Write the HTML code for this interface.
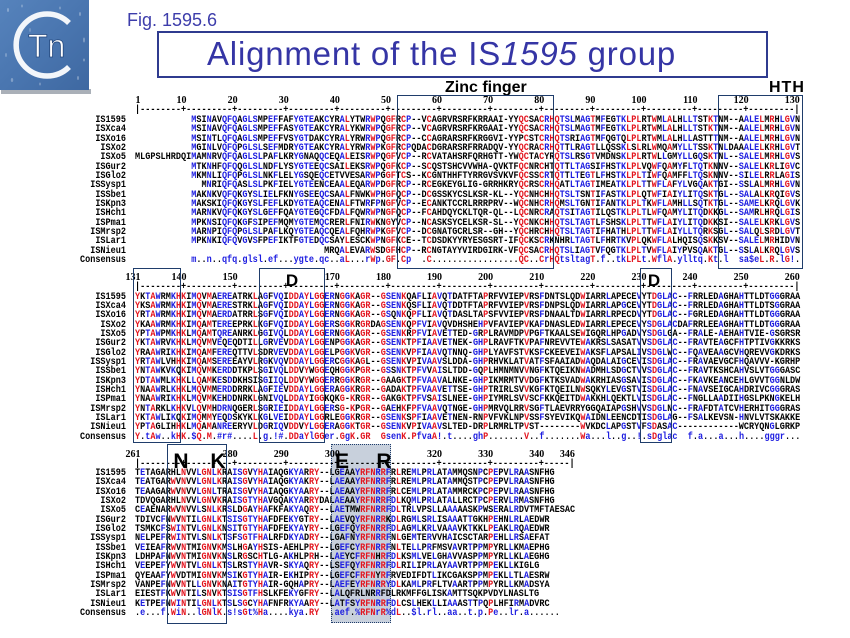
<!DOCTYPE html>
<html><head><meta charset="utf-8">
<style>
body{margin:0;background:#fff;}
#pg{position:relative;width:850px;height:638px;overflow:hidden;background:#fff;}
.a{position:absolute;}
.mono{font-family:"Liberation Mono","DejaVu Sans Mono",monospace;font-weight:bold;font-size:10px;color:#000;}
.names{position:absolute;left:0;width:126px;text-align:right;transform:scaleX(.8517);transform-origin:126px 0;}
.seqs{position:absolute;left:135.4px;transform:scaleX(.8517);transform-origin:0 0;}
.names div,.seqs div{height:9.35px;line-height:9.35px;white-space:pre;}
.c1{color:#e3151f}
.c2{color:#1c1ce0}
.lab{position:absolute;width:30px;text-align:right;font-family:"Liberation Serif",serif;font-weight:bold;font-size:10px;line-height:10px;color:#000;}
.box{position:absolute;border:1.5px solid #1f3d6b;box-sizing:border-box;}
.big{position:absolute;width:30px;text-align:center;font-family:"Liberation Sans",sans-serif;font-weight:bold;color:#000;}
</style></head>
<body><div id="pg">

<!-- logo -->
<svg class="a" style="left:0;top:0" width="92" height="96">
<defs><linearGradient id="bgl" x1="0" y1="0" x2="1" y2="1"><stop offset="0" stop-color="#5683bc"/><stop offset=".5" stop-color="#4a76b0"/><stop offset="1" stop-color="#3e68a1"/></linearGradient></defs>
<rect x="1" y="89" width="90" height="5" fill="#aab0b8"/>
<rect x="0" y="0" width="89" height="90" fill="url(#bgl)"/>
<g fill="#fff">
<ellipse cx="8" cy="10" rx="1" ry="2" opacity=".3"/><ellipse cx="22" cy="6" rx="1" ry="1.5" opacity=".25"/>
<ellipse cx="80" cy="14" rx="1" ry="2" opacity=".3"/><ellipse cx="84" cy="40" rx="1" ry="2.5" opacity=".3"/>
<ellipse cx="6" cy="55" rx="1" ry="2" opacity=".25"/><ellipse cx="12" cy="80" rx="1.2" ry="2" opacity=".3"/>
<ellipse cx="40" cy="84" rx="1" ry="1.5" opacity=".25"/><ellipse cx="78" cy="78" rx="1" ry="2" opacity=".3"/>
<ellipse cx="60" cy="8" rx="1" ry="1.5" opacity=".25"/><ellipse cx="30" cy="30" rx="1" ry="2" opacity=".2"/>
<ellipse cx="60" cy="72" rx="1" ry="2" opacity=".2"/><ellipse cx="84" cy="60" rx="1" ry="1.5" opacity=".3"/>
</g>
<path d="M69 23 A31 31 0 1 0 69 67" fill="none" stroke="#f3f6fa" stroke-width="5.5"/>
<text x="28" y="57" font-family="Liberation Sans, sans-serif" font-size="32" fill="#fff" stroke="#24487e" stroke-width=".8">Tn</text>
</svg>

<div class="a" style="left:127px;top:10.6px;font-family:'Liberation Sans',sans-serif;font-size:18px;line-height:18px;color:#3d3dab;white-space:nowrap">Fig. 1595.6</div>
<div class="a" style="left:157px;top:31px;width:611px;height:47px;border:2px solid #2f3b8f;box-sizing:border-box"></div>
<div class="a" style="left:207px;top:37px;font-family:'Liberation Sans',sans-serif;font-size:33px;line-height:33px;letter-spacing:.8px;color:#3535a5;white-space:nowrap">Alignment of the IS<i>1595</i> group</div>

<div class="a" style="left:445px;top:79.5px;font-family:'Liberation Sans',sans-serif;font-weight:bold;font-size:16px;line-height:16px;white-space:nowrap">Zinc finger</div>
<div class="a" style="left:769px;top:79.5px;font-family:'Liberation Sans',sans-serif;font-weight:bold;font-size:16px;line-height:16px;letter-spacing:1px">HTH</div>

<!-- E-R box fill (behind text) -->
<div class="a" style="left:331px;top:444px;width:60px;height:179px;background:#c8d0dc"></div>

<!-- ================= BLOCK 1 ================= -->
<div class="lab" style="left:110.55px;top:96.1px">1</div>
<div class="lab" style="left:156.5px;top:96.1px">10</div>
<div class="lab" style="left:207.65px;top:96.1px">20</div>
<div class="lab" style="left:258.75px;top:96.1px">30</div>
<div class="lab" style="left:309.85px;top:96.1px">40</div>
<div class="lab" style="left:360.95px;top:96.1px">50</div>
<div class="lab" style="left:412.05px;top:96.1px">60</div>
<div class="lab" style="left:463.15px;top:96.1px">70</div>
<div class="lab" style="left:514.25px;top:96.1px">80</div>
<div class="lab" style="left:565.35px;top:96.1px">90</div>
<div class="lab" style="left:616.45px;top:96.1px">100</div>
<div class="lab" style="left:667.55px;top:96.1px">110</div>
<div class="lab" style="left:718.65px;top:96.1px">120</div>
<div class="lab" style="left:769.75px;top:96.1px">130</div>
<div class="seqs mono" style="top:106px"><div>|--------+---------+---------+---------+---------+---------+---------+---------+---------+---------+---------+---------+---------|</div></div>

<div class="blk a mono" style="left:0;top:116px;width:850px">
<div class="names"><div>IS1595</div><div>ISXca4</div><div>ISXo16</div><div>ISXo2</div><div>ISXo5</div><div>ISGur2</div><div>ISGlo2</div><div>ISSysp1</div><div>ISSbe1</div><div>ISKpn3</div><div>ISHch1</div><div>ISPma1</div><div>ISMrsp2</div><div>ISLar1</div><div>ISNieu1</div><div>Consensus</div></div>
<div class="seqs">
<div class="s">           MSINAVQFQAGLSMPEFFAFYGTEAKCYRALYTWRWPQGFRCP--VCAGRVRSRFKRRAAI-YYQCSACRHQTSLMAGTMFEGTKLPLRTWMLALHLLTSTKTNM--AALELMRHLGVN</div>
<div class="s">           MSINAVQFQAGLSMPEFFASYGTEAKCYRALYKWRWPQGFRCP--VCAGRVRSRFKRGAAI-YYQCSACRHQTSLMAGTMFEGTKLPLRTWMLALHLLTSTKTNM--AALELMRHLGVN</div>
<div class="s">           MSINTLQFQAGLSMPEFFVSYGTDAKCYRALYRWRWPQGFRCP--CCAGRARSRFKRGGVI-YYPCSTCRHQTSRIAGTMFQGTQLPLRTWMLALHLLASTTTNM--AALELMRHLGVN</div>
<div class="s">           MGINLVQFQPGLSLSEFMDRYGTEAKCYRALYRWRWPKGFRCPQDACDGRARSRFRRADQV-YYQCRACRHQTTLRAGTLLQSSKLSLRLWMQAMYLLTSSKTNLDAAALELKRHLGVT</div>
<div class="s">MLGPSLHRDQIMAMNRVQFQAGLSLPAFLKRYGNAQQCEQALEISRWPQGFVCP--RCVATAHSRFQRHGTT-YWQCTACYRQTSLRSGTVMDNSKLPLRTWLLGMYLLGQSKTNL--SALELMRHLGVS</div>
<div class="s">           MTKNHFQFQQGLSLNDFLYSYGTEEQCSAILEKSRWPQGFKCP--SCQSTSHCVVWHA-QVKTFQCNRCHTQTTLTAGSIFHSTKLPLVQWFQAMYFLTQTKNNV--SALELKRLIGVC</div>
<div class="s">           MKMNLIQFQPGLSLNKFLELYGSQEQCETVVESARWPGGFTCS--KCGNTHHFTYRRGVSVKVFQCSSCRTQTTLTEGTLFHSTKLPLTIWFQAMFFLTQSKNNV--SILELRRLAGIS</div>
<div class="s">             MNRIQFQASLSLPKFIELYGTEENCEAALEQARWPDGFRCP--RCEGKEYGLIG-GRRHKRYQCRSCRHQATLTAGTIMEATKLPLTTWFLAFYLVGQAKTGI--SSLALMRHLGVN</div>
<div class="s">           MAKNKVQFQKGYSLIELFKNYGSEEQCSAALFNWKWPHGFQCP--DCGSSKYCSLKSR-KL--YQCNHCHHQTSLTSNTIFASTKLPLQTWFIAIYLITQSKTGL--SALALKRQIGVS</div>
<div class="s">           MAKSKIQFQKGYSLFEFLKDYGTEAQCENALFTWRFPNGFVCP--ECANKTCCRLRRRPRV--WQCNHCRHQMSLTGNTIFANTKLPLTKWFLAMHLLSQTKTGL--SAMELKRQLGVK</div>
<div class="s">           MARNKVQFQKGYSLGEFFQAYGTEGQCFDALFQWRWPNGFQCP--FCAHDQYCKLTQR-QL--LQCNRCRAQTSITAGTILQSTKLPLTLWFQAMYLITQDKKGL--SAMRLHRQLGIS</div>
<div class="s">           MPKNSIQFQKGFSIPEFMQMYGTEMQCRERLFNIRWKNGYVCP--NCASKSYCELKSR-SL--YQCNKCHHQTSLTAGTLFSHSKLPLTTWFLAIYLITQDKKSI--SALELKRKLGVS</div>
<div class="s">           MARNPIQFQPGLSLPAFLKQYGTEAQCQEALFQHRWPKGFVCP--DCGNATGCRLSR--GH--YQCHRCHHQTSLTAGTIFHATHLPLTTWFLAIYLLTQRKSGL--SALQLSRDLGVT</div>
<div class="s">           MPKNKIQFQVGVSFPEFIKTFGTEDQCSAYLESCKWPNGFKCE--TCDSDKYYRYESGSRT-IFQCKSCRKNHRLTAGTLFHRTKVPLQKWFLALHQISQSKKSV--SALELMRHIDVN</div>
<div class="s">                                     MRQALEVARWSDGFHCP--RCNGTAYYVIRDGIRK-VFQCSACRHQTSLIAGTVFQGTKLPLTVWFLAIYPVSQAKTGL--SSLALKRQLGVS</div>
<div class="k">           m..n..qfq.glsl.ef...ygte.qc..aL...rWp.GF.Cp  .C.................QC..CrHQtsltagT.f..tkLPLt.WflA.ylltq.Kt.l  sa$eL.R.lG!.</div>
</div></div>

<!-- ================= BLOCK 2 ================= -->
<div class="lab" style="left:110.55px;top:273.1px">131</div>
<div class="lab" style="left:156.5px;top:273.1px">140</div>
<div class="lab" style="left:207.65px;top:273.1px">150</div>
<div class="lab" style="left:309.85px;top:273.1px">170</div>
<div class="lab" style="left:360.95px;top:273.1px">180</div>
<div class="lab" style="left:412.05px;top:273.1px">190</div>
<div class="lab" style="left:463.15px;top:273.1px">200</div>
<div class="lab" style="left:514.25px;top:273.1px">210</div>
<div class="lab" style="left:565.35px;top:273.1px">220</div>
<div class="lab" style="left:616.45px;top:273.1px">230</div>
<div class="lab" style="left:667.55px;top:273.1px">240</div>
<div class="lab" style="left:718.65px;top:273.1px">250</div>
<div class="lab" style="left:769.75px;top:273.1px">260</div>
<div class="seqs mono" style="top:283px"><div>|--------+---------+---------+---------+---------+---------+---------+---------+---------+---------+---------+---------+---------|</div></div>

<div class="blk a mono" style="left:0;top:292.5px;width:850px">
<div class="names"><div>IS1595</div><div>ISXca4</div><div>ISXo16</div><div>ISXo2</div><div>ISXo5</div><div>ISGur2</div><div>ISGlo2</div><div>ISSysp1</div><div>ISSbe1</div><div>ISKpn3</div><div>ISHch1</div><div>ISPma1</div><div>ISMrsp2</div><div>ISLar1</div><div>ISNieu1</div><div>Consensus</div></div>
<div class="seqs">
<div class="s">YKTAWRMKHKIMQVMAEREATRKLAGFVQIDDAYLGGERNGGKAGR--GSENKQAFLIAVQTDATFTAPRFVVIEPVRSFDNTSLQDWIARRLAPECEVYTDGLAC--FRRLEDAGHAHTTLDTGGGRAA</div>
<div class="s">YKSAWRMKHKIMQVMAERESTRKLAGFVQIDDAYLGGERNGGKAGR--GSENKQSFLIAVQTDDTFTAPRFVVIEPVRSFDNPSLQDWIARRLAPGCEVYTDGLAC--FRRLEDAGHAHTTLDTSGGRAA</div>
<div class="s">YRTAWRMKHKIMQVMAERDATRRLSGFVQIDDAYLGGERNGGKAGR--GSQNKQPFLIAVQTDASLTAPSFVVIEPVRSFDNAALTDWIARRLRPECDVYTDGLAC--FGRLEDAGHAHTTLDTGGGRAA</div>
<div class="s">YKAAWRMKHKIMQAMTEREEPRKLKGFVQIDDAYLGGERSGGKRGRDAGSENKQPFVIAVQVDHSHEHPVFAVIEPVKAFDNASLEDWIARRLEPECEVYSDGLACDAFRRLEEAGHAHTTLDTGGGRAA</div>
<div class="s">YPTAWPMKHKLMQAMTQREANRKLGGIVQLDDAYLGGERNGGKAGR--GSENKRPFVIAVETTED-GRPLRAVMDPVPGFTKAALSEWIGQRLHPGADVYSDGLGA--FRALE-AEHAHTVIE-GSGRSR</div>
<div class="s">YKTAWRVKHKLMQVMVEQEQDTILLGRVEVDDAYLGGENPGGKAGR--GSENKTPFIAAVETNEK-GHPLRAVFTKVPAFNREVVTEWAKRSLSASATVVSDGLAC--FRAVTEAGCFHTPTIVGKKRKS</div>
<div class="s">YRAAWRIKHKIMQAMFEREQTTVLSDRVEVDDAYLGGELPGGKVGR--GSENKVPFIAAVQTNNQ-GHPLYAVFSTVKSFCKEEVEIWAKSFLAPSALIVSDGLWC--FQAVEAAGCVHQREVVGKDRKS</div>
<div class="s">YRTAWLVHHKIMQAMSEREEAYVLRGKVQVDDAYLGGERCGGKAGL--GSENKVPIVAAVSLDDA-GHPRHVKLATVATFSFAAIADWAQDALAIGCEVISDGLAC--FRAVAEVGCFHQAVVV-KGRHP</div>
<div class="s">YNTAWKVKQKIMQVMKERDDTKPLSGIVQLDDVYWGGEQHGGKPGR--GSSNKTPFVVAISLTDD-GQPLHMNMNVVNGFKTQEIKNWADMHLSDGCTVVSDGLAC--FRAVTKSHCAHVSLVTGGGASC</div>
<div class="s">YDTAWMLKHKLLQAMKESDDKHSISGIIQLDDVYWGGERRGGKRGR--GAAGKTPFVAAVALNKE-GHPIKMRMTVVDGFKTKSVADWAKRHIASGSAVISDGLAC--FKAVKEANCEHLGVVTGGNLDW</div>
<div class="s">YNAAWRLKHKLMQVMMERDDRRKLAGFIEVDDAYLGGERAGGKRGR--GADAKTPFVAAVETTSE-GHPTRIRLSVVKGFKTQEILNWSQKYLEVGSTVISDGLAC--FNAVSEIGCAHDRIVCGGGRAS</div>
<div class="s">YNAAWRIKHKLMQVMKEHDDNRKLGNIVQLDDAYIGGKQKG-KRGR--GAKGKTPFVSAISLNEE-GHPIYMRLSVVSCFKKQEITDWAKKHLQEKTLVISDGLAC--FNGLLAADIIHGSLPKNGKELH</div>
<div class="s">YNTARKLKHKVLQVMHDRNQGERLSGRIEIDDAYLGGERSG-KPGR--GAEHKFPFVAAVQTNGE-GHPMRVQLRRVSGFTLAEVRRYGGQAIAPGSHVVSDGLNC--FRAFDTATCVHERHITGGGRAS</div>
<div class="s">YKTAWLIKQKIMQMMYEQDSKYKLKGLVEIDDAYLGGRLEGGKRGR--GSENKSPFIAAVETNEN-RNPVFVKLNPVSSFSYEVIKQWAIDNLEENCDTISDGLAG--FSALKEVSN-HNVLVTSKAKKE</div>
<div class="s">YPTAGLIHHKLMQAMANREERYVLDGRIQVDDVYLGGERAGGKTGR--GSENKVPIVAAVSLTED-DRPLRMRLTPVST--------WVKDCLAPGSTVFSDASAC------------WCRYQNGLGRKP</div>
<div class="k">Y.tAw..kHK.$Q.M.#r#....L.g.!#.DDaYlGGer.GgK.GR  GsenK.PfvaA!.t....ghP.......V..f.......Wa...l..g..!.sDglac  f.a...a...h....gggr...</div>
</div></div>

<!-- ================= BLOCK 3 ================= -->
<div class="lab" style="left:110.55px;top:450.1px">261</div>
<div class="lab" style="left:207.65px;top:450.1px">280</div>
<div class="lab" style="left:258.75px;top:450.1px">290</div>
<div class="lab" style="left:309.85px;top:450.1px">300</div>
<div class="lab" style="left:412.05px;top:450.1px">320</div>
<div class="lab" style="left:463.15px;top:450.1px">330</div>
<div class="lab" style="left:514.25px;top:450.1px">340</div>
<div class="lab" style="left:544.9px;top:450.1px">346</div>
<div class="seqs mono" style="top:459.5px"><div>|--------+---------+---------+---------+---------+---------+---------+---------+-----|</div></div>

<div class="blk a mono" style="left:0;top:469px;width:850px">
<div class="names"><div>IS1595</div><div>ISXca4</div><div>ISXo16</div><div>ISXo2</div><div>ISXo5</div><div>ISGur2</div><div>ISGlo2</div><div>ISSysp1</div><div>ISSbe1</div><div>ISKpn3</div><div>ISHch1</div><div>ISPma1</div><div>ISMrsp2</div><div>ISLar1</div><div>ISNieu1</div><div>Consensus</div></div>
<div class="seqs">
<div class="s">TETAGARHLNVVLGNLKRAISGVYHAIAQGKYARRY--LGEAAYRFNRRFRLREMLPRLATAMMQSNPCPEPVLRAASNFHG</div>
<div class="s">TEATGARWVNVVLGNLKRAISGVYHAIAQGKYAKRY--LAEAAYRFNRRFRLREMLPRLATAMMQSTPCPEPVLRAASNFHG</div>
<div class="s">TEAAGARWVNVVLGNLTRAISGVYHAIAQGKYAARY--LAEAAYRFNRRFRLCEMLPRLATAMMRCKPCPEPVLRAASNFHG</div>
<div class="s">TDVQGARHLNVVLGNVKRAISGTYHAVGQAKYARRYDALAEAAYRFNRRFDLKQMLPRLATALLRCTPCPERVLRMASNFHG</div>
<div class="s">CEAENARWVNVVLSNLKRSLDGAYHAFKFAKYAQRY--LAETMWRFNRRFDLTRLVPSLLAAAAASKPWSERALRDVTMFTAESAC</div>
<div class="s">TDIVCFNWVNTILGNLKTSISGTYHAFDFEKYGTRY--LAEVQYRFNRRKDLRGMLSRLISAAATTGKHPEHNLRLAEDWR</div>
<div class="s">TSMKCFSWINTVLGNLKNSITGTYHAFDFEKYAYRY--LGEFQYRFNRRFDLAGMLKRLVAAAVKTKKLPEAKLRQAEDWR</div>
<div class="s">NELPEFRWINTVLSNLKTSFSGTFHALRFDKYADRY--LGAFNYRFNRRFNLGEMTERVVHAICSCTARPEHLLRSAEFAT</div>
<div class="s">VEIEAFRWVNTMIGNVKMSLHGAYHSIS-AEHLPRY--LGEFCYRFNRRFNLTELLPRFMSVAVRTPPMPYRLLKMAEPHG</div>
<div class="s">LDHPAFNWVNTMIGNVKNSLRGSCHTLG-AKHLPRH--LAEYCFRFNHRFDLKSMLVELGHAVVASPPMPYRLLKLAEGHG</div>
<div class="s">VEEPEFYWVNTVLGNLKTSLRSTYHAVR-SKYAQRY--LSEFQYRFNRRFDLRILIPRLAYAAVRTPPMPEKLLKIGLG</div>
<div class="s">QYEAAFYWVDTMIGNVKMSIKGTYHAIR-EKHIPRY--LGEFCFRFNYRFRVEDIFDTLIKCGAKSPPMPEKLLTLAESRW</div>
<div class="s">VANPEFNWVNTLLGNVKNAITGTYHAIR-GQHAPRY--LAEFEYRFNRRYDLKAMLPRFLTVAARTPPMPYRLLKMADSYA</div>
<div class="s">EIESTFKWVNTILSNVKTSISGTFHSLKFEKYGFRY--LALQFRLNRRFDLRKMFFGLISKAMTTSQKPVDYLNASLTG</div>
<div class="s">KETPEFNWINTILGNLKTSLSGCYHAFNFRKYAARY--LATFSYRFNRRFDLCSLHEKLLIAAASTTPQPLHFIRMADVRC</div>
<div class="k">.e...f.WiN..lGNlK.s!sGt%Ha....kya.RY  .aef.%RFNrR%dL..$l.rl..aa..t.p.Pe..lr.a......</div>
</div></div>

<!-- boxes -->
<div class="box" style="left:396.5px;top:95px;width:157.5px;height:174px"></div>
<div class="box" style="left:717.5px;top:95px;width:85.5px;height:174px"></div>
<div class="box" style="left:133px;top:268px;width:48px;height:175px"></div>
<div class="box" style="left:258.5px;top:268px;width:66.5px;height:175px"></div>
<div class="box" style="left:639.5px;top:268px;width:32.5px;height:175px"></div>
<div class="box" style="left:167px;top:444px;width:60px;height:180px"></div>
<div class="box" style="left:331px;top:444px;width:60px;height:179px;border-style:dotted"></div>

<!-- big labels -->
<div class="big" style="left:277px;top:271.7px;font-size:17px;line-height:17px">D</div>
<div class="big" style="left:639px;top:271.7px;font-size:17px;line-height:17px">D</div>
<div class="big" style="left:166px;top:450.75px;font-size:21px;line-height:21px">N</div>
<div class="big" style="left:203px;top:450.75px;font-size:21px;line-height:21px">K</div>
<div class="big" style="left:327px;top:450.75px;font-size:21px;line-height:21px">E</div>
<div class="big" style="left:369px;top:450.75px;font-size:21px;line-height:21px">R</div>

</div>
<script>
(function(){
var groups={'!':'IV','$':'LM','%':'FY','#':'NDQEBZ'};
function cls(c,r){
  if(!c||r===' '||r==='-'||r==='.')return 0;
  if(c>='A'&&c<='Z')return r===c?1:0;
  if(c>='a'&&c<='z')return r===c.toUpperCase()?2:0;
  if(groups[c])return groups[c].indexOf(r)>=0?2:0;
  return 0;
}
function esc(s){return s.replace(/&/g,'&amp;').replace(/</g,'&lt;');}
function wrap(k,s){s=esc(s);return k===0?s:'<span class="c'+k+'">'+s+'</span>';}
var blks=document.querySelectorAll('.blk');
for(var b=0;b<blks.length;b++){
  var blk=blks[b];
  var cons=blk.querySelector('.k');
  var ct=cons.textContent;
  var rows=blk.querySelectorAll('.s');
  for(var r=0;r<rows.length;r++){
    var t=rows[r].textContent,h='',cur=-1,run='';
    for(var i=0;i<t.length;i++){
      var k=cls(ct.charAt(i),t.charAt(i));
      if(k!==cur){if(run)h+=wrap(cur,run);run='';cur=k;}
      run+=t.charAt(i);
    }
    if(run)h+=wrap(cur,run);
    rows[r].innerHTML=h;
  }
  var hc='',cc=-1,rc='';
  for(var j=0;j<ct.length;j++){
    var ch=ct.charAt(j);
    var kk=(ch>='A'&&ch<='Z')?1:((ch==='.'||ch===' ')?0:2);
    if(kk!==cc){if(rc)hc+=wrap(cc,rc);rc='';cc=kk;}
    rc+=ch;
  }
  if(rc)hc+=wrap(cc,rc);
  cons.innerHTML=hc;
}
})();
</script>
</body></html>
